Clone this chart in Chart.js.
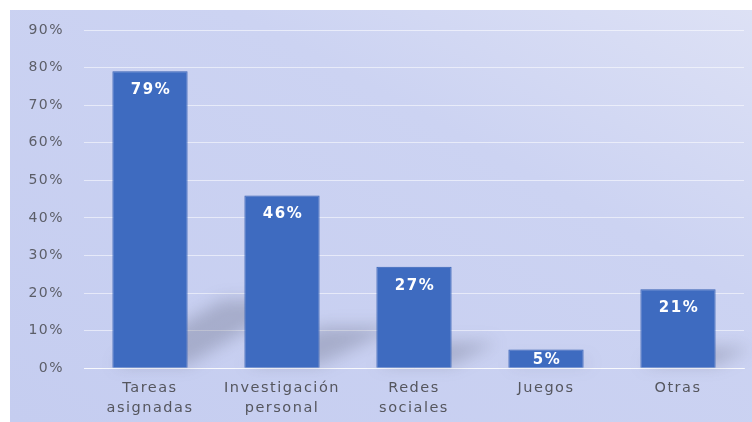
<!DOCTYPE html>
<html>
<head>
<meta charset="utf-8">
<script src="https://cdn.jsdelivr.net/npm/chart.js@4/dist/chart.umd.min.js"></script>
<style>
  html, body { margin: 0; padding: 0; background: #fff; }
  #wrap {
    position: absolute; left: 10px; top: 10px; width: 742px; height: 412px;
    background: linear-gradient(to bottom left, #dde1f5 0%, #ccd3f2 35%, #c5cdf0 100%);
  }
  #wrap canvas { display: block; }
</style>
</head>
<body>
<div id="wrap"><canvas id="bar-chart" width="742" height="412"></canvas></div>
<script>
// categorias y valores (porcentaje)
var categorias = [["Tareas", "asignadas"], ["Investigación", "personal"], ["Redes", "sociales"], "Juegos", "Otras"];
var valores = [79, 46, 27, 5, 21];
var ticksY = [0, 10, 20, 30, 40, 50, 60, 70, 80, 90];

init();

function init(){
    //texto espaciado como en la imagen
    var espaciado = {
        id: 'espaciado',
        beforeLayout: function(chart){ chart.ctx.letterSpacing = '1.5px'; },
        beforeDraw: function(chart){ chart.ctx.letterSpacing = '1.5px'; }
    };
    //sombra detras de las barras
    var sombra = {
        id: 'sombra',
        beforeDatasetsDraw: function(chart){
            var ctx = chart.ctx;
            var meta = chart.getDatasetMeta(0);
            ctx.save();
            ctx.filter = 'blur(8px)';
            ctx.fillStyle = 'rgba(80,82,105,0.28)';
            meta.data.forEach(function(bar){
                var p = bar.getProps(['x', 'y', 'base', 'width'], true);
                var h = p.base - p.y;
                var x0 = p.x - p.width / 2, x1 = p.x + p.width / 2;
                var dx = Math.min(h * 0.45, 110), dy = Math.min(h * 0.22, 65);
                ctx.beginPath();
                ctx.moveTo(x0, p.base - 3);
                ctx.lineTo(x1, p.base - 3);
                ctx.lineTo(x1 + dx, p.base - 3 - dy);
                ctx.lineTo(x0 + dx, p.base - 3 - dy);
                ctx.closePath();
                ctx.fill();
            });
            ctx.restore();
        }
    };
    //etiquetas de valor
    var etiquetas = {
        id: 'etiquetas',
        afterDatasetsDraw: function(chart){
            var ctx = chart.ctx;
            var meta = chart.getDatasetMeta(0);
            ctx.save();
            ctx.font = 'bold 15px "DejaVu Sans", sans-serif';
            ctx.letterSpacing = '1.5px';
            ctx.fillStyle = '#ffffff';
            ctx.textAlign = 'center';
            ctx.textBaseline = 'middle';
            meta.data.forEach(function(bar, i){
                var p = bar.getProps(['x', 'y', 'base'], true);
                var yy = Math.min(p.y + 19, p.y + (p.base - p.y) / 2 + 1);
                ctx.fillText(valores[i] + '%', p.x + 1, yy);
            });
            ctx.restore();
        }
    };

    var ctx = document.getElementById('bar-chart');
    new Chart(ctx, {
        type: 'bar',
        data: {
            labels: categorias,
            datasets: [{
                data: valores,
                backgroundColor: '#3e6bc0',
                borderColor: '#3762b5',
                borderWidth: 1,
                categoryPercentage: 1,
                barPercentage: 0.57
            }]
        },
        options: {
            responsive: false,
            animation: false,
            layout: { padding: { top: 20, right: 8, bottom: 2, left: 0 } },
            plugins: { legend: { display: false }, tooltip: { enabled: false } },
            scales: {
                y: {
                    min: 0, max: 90,
                    afterBuildTicks: function(axis){
                        axis.ticks = ticksY.map(function(v){ return { value: v }; });
                    },
                    afterFit: function(axis){
                        axis.width = 74;
                        axis.paddingTop = 0;
                        axis.paddingBottom = 0;
                    },
                    border: { display: false },
                    grid: { color: 'rgba(255,255,255,0.55)', lineWidth: 1, drawTicks: false },
                    ticks: {
                        padding: 20,
                        color: '#5c5e68',
                        font: { family: '"DejaVu Sans", sans-serif', size: 14 },
                        callback: function(v){ return v + '%'; }
                    }
                },
                x: {
                    border: { display: true, color: 'rgba(255,255,255,0.7)' },
                    grid: { display: false },
                    ticks: {
                        padding: 2,
                        color: '#55565e',
                        font: { family: '"DejaVu Sans", sans-serif', size: 14.5, lineHeight: 1.37 },
                        maxRotation: 0
                    }
                }
            }
        },
        plugins: [espaciado, sombra, etiquetas]
    });
}
</script>
</body>
</html>
